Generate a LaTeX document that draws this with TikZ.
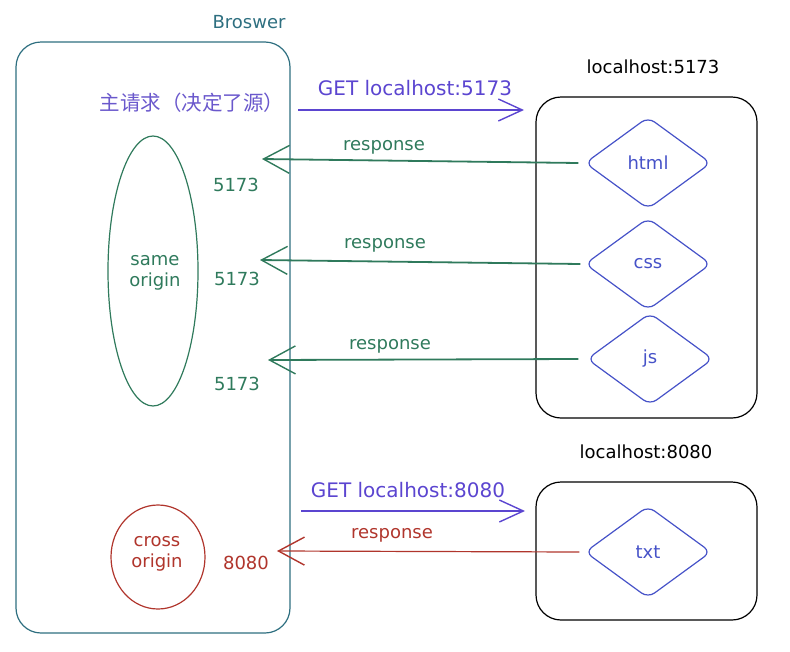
\documentclass[tikz,border=0pt]{standalone}
\usepackage{fontspec}
\setmainfont{DejaVu Sans}
\newfontfamily\cjk{Noto Sans CJK SC}
\usetikzlibrary{shapes.geometric,arrows.meta}
\definecolor{teal}{HTML}{2E6F80}
\definecolor{purp}{HTML}{5B45D0}
\definecolor{ptext}{HTML}{6A58CC}
\definecolor{grn}{HTML}{2F7A5C}
\definecolor{redc}{HTML}{B0352C}
\definecolor{dblue}{HTML}{4652C8}
\tikzset{
  txt/.style={font=\fontsize{18}{21}\selectfont, inner sep=0pt},
  biglbl/.style={font=\fontsize{20}{22}\selectfont, inner sep=0pt},
  container/.style={draw, line width=1.2pt, rounded corners=25pt, rectangle, inner sep=0pt},
  res/.style={draw=dblue, text=dblue, line width=1.2pt, diamond, rounded corners=8pt,
    minimum width=126pt, minimum height=92pt, inner sep=0pt, font=\fontsize{18}{21}\selectfont},
  req/.style={draw=purp, line width=1.8pt, -{Straight Barb[length=24pt,width=22pt,line width=1.4pt]}},
  resp/.style={line width=1.8pt, -{Straight Barb[length=26pt,width=28pt,line width=1.4pt]}}
}
\begin{document}
\begin{tikzpicture}[x=1pt,y=-1pt]
\useasboundingbox (0,0) rectangle (790,651);
% Browser
\node[container, draw=teal, minimum width=274pt, minimum height=591pt] (browser) at (153,337.5) {};
\node[txt, text=teal] (browserlbl) at (249,22) {Broswer};
\node[font=\cjk\fontsize{20.5}{22}\selectfont, text=ptext, inner sep=0pt] (main) at (192,103) {主请求（决定了源）};
% same origin
\node[draw=grn, line width=1.2pt, ellipse, minimum width=90pt, minimum height=270pt, inner sep=0pt] (same) at (153,271) {};
\node[txt, text=grn, align=center] (samelbl) at (155,273) {same\\origin};
% cross origin
\node[draw=redc, line width=1.2pt, ellipse, minimum width=94pt, minimum height=104pt, inner sep=0pt] (cross) at (158,557) {};
\node[txt, text=redc, align=center] (crosslbl) at (157,554) {cross\\origin};
% servers
\node[container, draw=black, minimum width=221pt, minimum height=321pt] (s1) at (646.5,257.5) {};
\node[txt] (s1lbl) at (653,67) {localhost:5173};
\node[container, draw=black, minimum width=221pt, minimum height=138pt] (s2) at (646.5,551) {};
\node[txt] (s2lbl) at (646,452) {localhost:8080};
% resources
\node[res] (html) at (648,163) {html};
\node[res] (css) at (648,264) {css};
\node[res] (js) at (650,359) {js};
\node[res] (txtr) at (648,552) {txt};
% arrow end coordinates
\coordinate (g1s) at (298,110);
\coordinate (g1e) at (524,110);
\coordinate (r1) at (262,159);
\coordinate (r2) at (260,260);
\coordinate (r3) at (268,360);
\coordinate (g2s) at (301,511);
\coordinate (g2e) at (525,511);
\coordinate (r4) at (277,551);
% requests
\draw[req] (g1s) -- (g1e);
\node[biglbl, text=purp] (g1lbl) at (415,88) {GET localhost:5173};
\draw[req] (g2s) -- (g2e);
\node[biglbl, text=purp] (g2lbl) at (408,490) {GET localhost:8080};
% responses
\draw[resp, draw=grn] ([xshift=-6pt]html.west) -- (r1);
\draw[resp, draw=grn] ([xshift=-4pt]css.west) -- (r2);
\draw[resp, draw=grn] ([xshift=-8pt]js.west) -- (r3);
\draw[resp, draw=redc, line width=1.2pt] ([xshift=-5pt]txtr.west) -- (r4);
\node[txt, text=grn] (l1) at (384,147) {response};
\node[txt, text=grn] (l2) at (385,245) {response};
\node[txt, text=grn] (l3) at (390,346) {response};
\node[txt, text=redc] (l4) at (392,535) {response};
\node[txt, text=grn] (p1) at (236,185) {5173};
\node[txt, text=grn] (p2) at (237,279) {5173};
\node[txt, text=grn] (p3) at (237,384) {5173};
\node[txt, text=redc] (p4) at (246,563) {8080};
\end{tikzpicture}
\end{document}
